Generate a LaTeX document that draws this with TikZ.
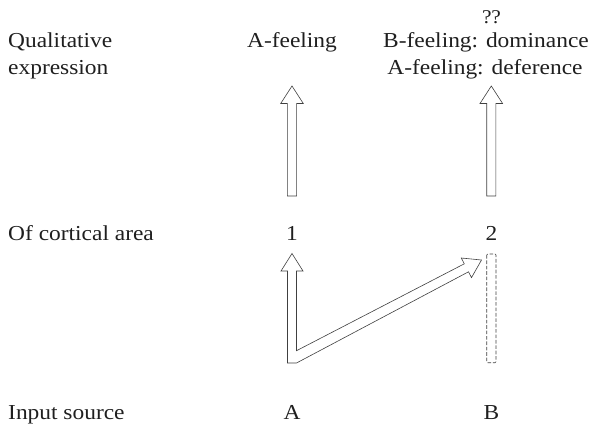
\documentclass[tikz,border=0pt]{standalone}
\usepackage{fontspec}
\setmainfont{Liberation Serif}[FakeStretch=1.1]
\begin{document}
\begin{tikzpicture}[x=1pt,y=-1pt,
  lbl/.style={inner sep=0pt,font=\fontsize{21.3}{26}\selectfont,text=black!88},
  leftlbl/.style={lbl,anchor=base west},
  midlbl/.style={lbl,anchor=base},
  fat/.style={draw=black!75,line width=0.6pt,line join=miter,fill=white},
  ghost/.style={draw=black!75,line width=0.6pt,dash pattern=on 3.6pt off 1.8pt,rounded corners=1pt}]
\useasboundingbox (0,0) rectangle (594,429);

% row labels on the left
\node[leftlbl] (rowq1) at (8,47.5) {Qualitative};
\node[leftlbl] (rowq2) at (8,74) {expression};
\node[leftlbl] (rowc) at (8,240.5) {Of cortical area};
\node[leftlbl] (rowi) at (8,419) {Input source};

% column A
\node[midlbl] (featA) at (292,47.5) {A-feeling};
\node[midlbl] (area1) at (292,240.5) {1};
\node[midlbl] (srcA) at (292,419) {A};

% column B
\node[midlbl,font=\fontsize{19.5}{22}\selectfont] (qq) at (491.5,23) {?\kern-0.5pt?};
\node[midlbl] (featB1) at (486,47.5) {B-feeling: dominance};
\node[midlbl] (featB2) at (485,74) {A-feeling: deference};
\node[midlbl] (area2) at (491.5,240.5) {2};
\node[midlbl] (srcB) at (491.5,419) {B};

% tips of the upward arrows
\coordinate (tipA) at (292,86);
\coordinate (tipB) at (491.3,86);

% upward block arrows towards the qualitative expressions
\draw[fat] (tipA) -- ++(11.3,17.5) -- ++(-6.7,0) -- ++(0,92.5) -- ++(-9.2,0)
  -- ++(0,-92.5) -- ++(-6.7,0) -- cycle;
\draw[fat] (tipB) -- ++(11.3,17.5) -- ++(-6.7,0) -- ++(0,92.5) -- ++(-9.2,0)
  -- ++(0,-92.5) -- ++(-6.7,0) -- cycle;

% branched block arrow from source A to areas 1 and 2
\coordinate (upTip) at (292,253.5);
\coordinate (diagTip) at (481.5,260);
\draw[fat] (287.5,363) -- (287.5,271) -- (281,271) -- (upTip) -- (303,271)
  -- (296.5,271) -- (296.5,350.7) -- (464.3,263.8) -- (461.3,258.0)
  -- (diagTip) -- (471.5,277.6) -- (468.5,271.8) -- (296.5,363) -- cycle;

% dashed column standing for area 2
\draw[ghost] (486.7,254) rectangle (496,362.7);
\end{tikzpicture}
\end{document}
